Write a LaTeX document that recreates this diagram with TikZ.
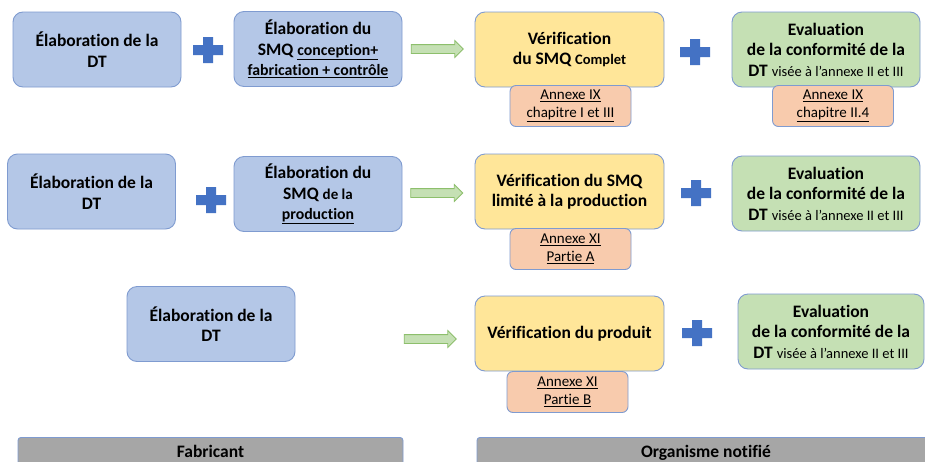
\documentclass[tikz,border=0pt]{standalone}
\usepackage{fontspec}
\setmainfont{Carlito}[Ligatures=NoCommon]
\usetikzlibrary{shapes.arrows}

\definecolor{dtblue}{HTML}{B4C7E7}
\definecolor{boxline}{HTML}{7F9BD0}
\definecolor{verifyellow}{HTML}{FFE699}
\definecolor{evalgreen}{HTML}{C5E0B4}
\definecolor{annexsalmon}{HTML}{F8CBAD}
\definecolor{bargrey}{HTML}{A6A6A6}
\definecolor{plusblue}{HTML}{4472C4}
\definecolor{arrowline}{HTML}{8DBF6C}

\tikzset{
  box/.style={draw=boxline, line width=0.9pt, rounded corners=10pt, align=center, inner sep=0pt,
    font=\fontsize{17.5}{20.5}\selectfont\bfseries},
  dtbox/.style={box, fill=dtblue, minimum width=168pt, minimum height=75pt},
  verifbox/.style={box, fill=verifyellow, minimum width=189pt, minimum height=75pt},
  evalbox/.style={box, fill=evalgreen, minimum width=188pt, minimum height=75pt},
  annexbox/.style={box, fill=annexsalmon, rounded corners=6pt, minimum width=121pt, minimum height=41pt,
    font=\fontsize{15}{18}\selectfont},
  rolebar/.style={box, fill=bargrey, rounded corners=3pt, minimum height=32pt, anchor=north,
    text height=12pt, text depth=4pt},
  flecharrow/.style={single arrow, draw=arrowline, fill=evalgreen, line width=0.8pt, inner xsep=0pt,
    inner ysep=4pt, minimum height=52pt, single arrow head extend=4pt, single arrow head indent=0pt},
  plussign/.pic={\fill[plusblue] (-15,-5) rectangle (15,5) (-5,-13) rectangle (5,13);}
}

\newcommand{\annexref}{\fontsize{14.5}{20.5}\selectfont\mdseries}
\newcommand{\smqpart}{\fontsize{15.8}{20.5}\selectfont}

\begin{document}
\begin{tikzpicture}[x=1pt,y=-1pt]
  \clip (0,0) rectangle (925,461);
  \fill[white] (0,0) rectangle (925,461);

  % ligne 1 : SMQ complet
  \node[dtbox] (dt1) at (97,49.5) {Élaboration de la\\DT};
  \pic at (208,50) {plussign};
  \node[dtbox] (smq1) at (318,49) {Élaboration du\\SMQ {\smqpart\underline{conception+}}\\{\smqpart\underline{fabrication + contrôle}}};
  \node[flecharrow] (arr1) at (435,49) {};
  \node[verifbox] (verif1) at (569.5,49.5) {Vérification\\du SMQ {\fontsize{14.5}{20.5}\selectfont Complet}};
  \node[annexbox] (annex1) at (570.5,106) {\underline{Annexe IX}\\\underline{chapitre I et III}};
  \pic at (695,52) {plussign};
  \node[evalbox] (eval1) at (826,49.5) {Evaluation\\de la conformité de la\\DT {\annexref visée à l’annexe II et III}};
  \node[annexbox] (annex2) at (833,106) {\underline{Annexe IX}\\\underline{chapitre II.4}};

  % ligne 2 : SMQ production
  \node[dtbox] (dt2) at (91.5,191.5) {Élaboration de la\\DT};
  \pic at (211,200) {plussign};
  \node[dtbox] (smq2) at (318,194) {Élaboration du\\SMQ {\fontsize{15}{20.5}\selectfont de la}\\{\smqpart\underline{production}}};
  \node[flecharrow] (arr2) at (434.5,193) {};
  \node[verifbox] (verif2) at (569.5,191.5) {Vérification du SMQ\\limité à la production};
  \node[annexbox] (annex3) at (570.5,249) {\underline{Annexe XI}\\\underline{Partie A}};
  \pic at (696,193) {plussign};
  \node[evalbox] (eval2) at (826,193.5) {Evaluation\\de la conformité de la\\DT {\annexref visée à l’annexe II et III}};

  % ligne 3 : produit
  \node[dtbox] (dt3) at (211,324) {Élaboration de la\\DT};
  \node[flecharrow] (arr3) at (428,339) {};
  \node[verifbox] (verif3) at (569.5,333.5) {Vérification du produit};
  \node[annexbox] (annex4) at (567.5,392) {\underline{Annexe XI}\\\underline{Partie B}};
  \pic at (697,333) {plussign};
  \node[evalbox, minimum width=186pt] (eval3) at (831,331.5) {Evaluation\\de la conformité de la\\DT {\annexref visée à l’annexe II et III}};

  % acteurs
  \node[rolebar, minimum width=385pt] (fab) at (210.5,437) {Fabricant};
  \node[rolebar, minimum width=458pt] (on) at (706,437) {Organisme notifié};
\end{tikzpicture}
\end{document}
